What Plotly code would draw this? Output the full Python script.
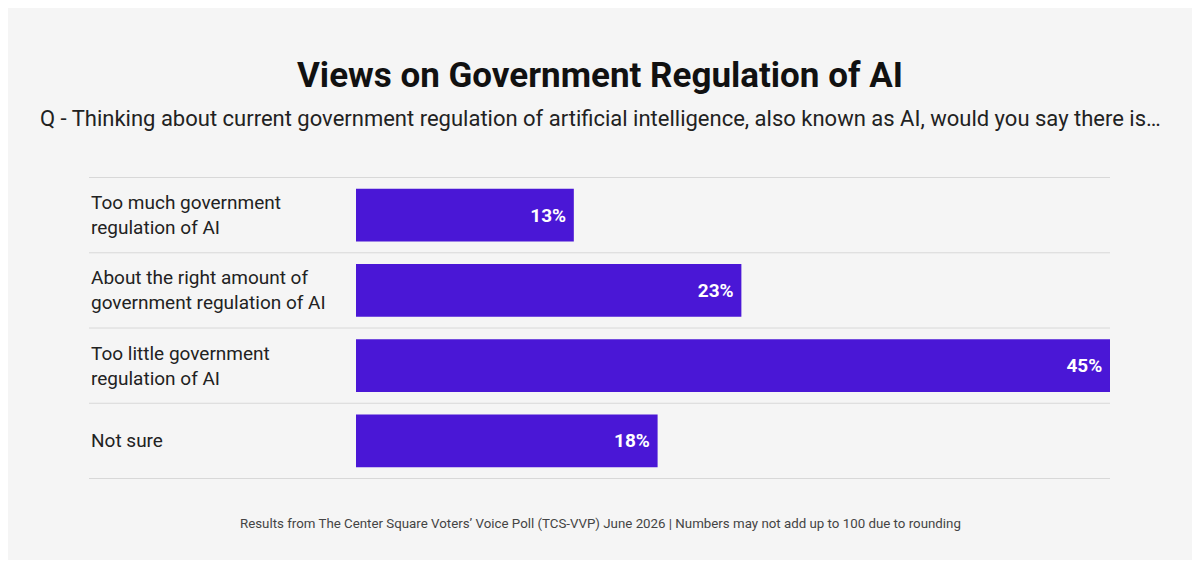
import plotly.graph_objects as go

categories = ["Too much government<br>regulation of AI",
              "About the right amount of<br>government regulation of AI",
              "Too little government<br>regulation of AI",
              "Not sure"]
values = [13, 23, 45, 18]

# the page adds an 8px body margin, so draw on a slightly smaller canvas
OFF = 8
W, H = 1200 - 2 * OFF, 568 - 2 * OFF
left, right, top, bottom = 356 - OFF, 90 - OFF, 177 - OFF, 89 - OFF
pw = W - left - right
ph = H - top - bottom

fig = go.Figure(go.Bar(
    x=values, y=categories, orientation="h",
    marker=dict(color="#4a17d6", line=dict(width=0)),
    text=[f"{v}%\u00a0" for v in values], textposition="inside", insidetextanchor="end",
    textfont=dict(family="Roboto", size=19, color="white", weight="bold"),
    width=0.7, hoverinfo="skip",
))

fig.update_yaxes(autorange="reversed", showticklabels=False, showgrid=False)
fig.update_xaxes(range=[0, 45], visible=False)

x_line0 = (89 - 356) / pw
shapes = []
for i in range(5):
    shapes.append(dict(type="line", xref="paper", yref="y", x0=x_line0, x1=1,
                       y0=i - 0.5, y1=i - 0.5, line=dict(color="#d8d8d8", width=1)))
annotations = [dict(text=c, xref="paper", yref="y", x=x_line0, y=i, xanchor="left",
                    align="left", showarrow=False,
                    font=dict(family="Roboto", size=19, color="#222"))
               for i, c in enumerate(categories)]
cx = (600 - 356) / pw
annotations += [
    dict(text="<b>Views on Government Regulation of AI</b>", xref="paper", yref="paper",
         x=cx, y=1 + (177 - 76) / ph, xanchor="center",
         yanchor="middle", showarrow=False, font=dict(family="Roboto", size=35, color="#111")),
    dict(text="Q - Thinking about current government regulation of artificial intelligence, also known as AI, would you say there is…",
         xref="paper", yref="paper", x=cx, y=1 + (177 - 118) / ph,
         xanchor="center", yanchor="middle", showarrow=False,
         font=dict(family="Roboto", size=22, color="#222")),
    dict(text="Results from The Center Square Voters’ Voice Poll (TCS-VVP) June 2026 | Numbers may not add up to 100 due to rounding",
         xref="paper", yref="paper", x=cx, y=-(523 - 479) / ph,
         xanchor="center", yanchor="middle", showarrow=False,
         font=dict(family="Roboto", size=13.3, color="#444")),
]

fig.update_layout(width=W, height=H, margin=dict(l=left, r=right, t=top, b=bottom),
                  paper_bgcolor="#f5f5f5", plot_bgcolor="#f5f5f5",
                  shapes=shapes, annotations=annotations, showlegend=False)

fig.write_html("out.html")
